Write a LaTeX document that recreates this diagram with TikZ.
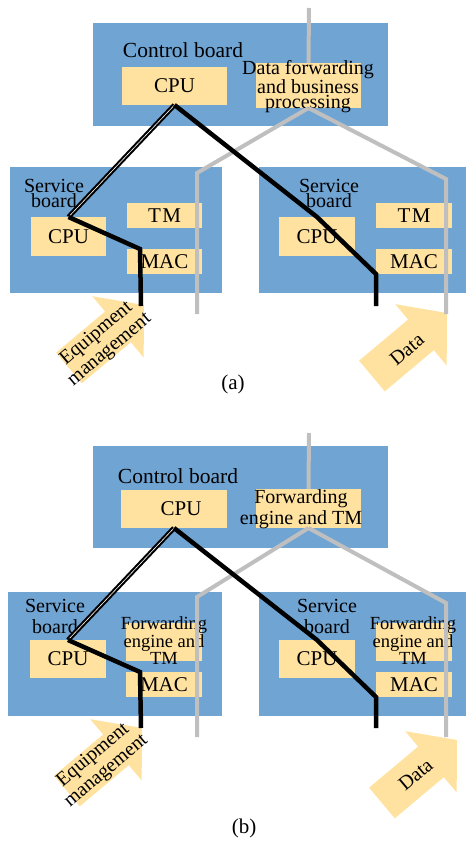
\documentclass[tikz,border=0pt]{standalone}
\usepackage{fontspec}
\setmainfont{Liberation Serif}
\definecolor{boardblue}{RGB}{111,164,211}
\definecolor{chipyellow}{RGB}{255,226,160}
\definecolor{linegray}{RGB}{191,191,191}
\begin{document}
\begin{tikzpicture}[x=1pt,y=-1pt,
  board/.style={fill=boardblue, draw=none, inner sep=0pt, outer sep=0pt},
  chip/.style={fill=chipyellow, draw=none, inner sep=0pt, outer sep=0pt, font=\fontsize{21}{21}\selectfont},
  lbl/.style={inner sep=0pt, outer sep=0pt, align=center},
  mgmt/.style={line width=4.5pt, draw=black, line join=miter},
  mgmtdbl/.style={line width=2.1pt, draw=black, double=white, double distance=0.6pt},
  dataline/.style={line width=4pt, draw=linegray, line join=miter},
  bigarrow/.style={fill=chipyellow, draw=none},
]
\useasboundingbox (0,0) rectangle (466,843);

%% ================= (a) =================
\node[board, minimum width=295pt, minimum height=103pt] (cbA) at (240.5,74.5) {};
\node[lbl, font=\fontsize{21.5}{21.5}\selectfont] (cbAt) at (183,50) {Control board};
\node[chip, minimum width=105pt, minimum height=38pt] (cpuA) at (174.5,86) {CPU};
\node[chip, minimum width=105pt, minimum height=45pt] (dfA) at (308.5,85.5) {};
\node[lbl, font=\fontsize{20}{15}\selectfont] (dfAt) at (308,87) {Data forwarding\\and business\\processing};

\node[board, minimum width=212pt, minimum height=126pt] (sbLA) at (116,230) {};
\node[lbl, font=\fontsize{20}{15}\selectfont] (sbLAt) at (54,193) {Service\\board};
\node[chip, minimum width=75pt, minimum height=39pt] (cpuLA) at (68.5,236.5) {CPU};
\node[chip, minimum width=75pt, minimum height=25pt] (tmLA) at (164.5,215.5) {T\kern1.5pt M};
\node[chip, minimum width=75pt, minimum height=25pt] (macLA) at (164.5,261.5) {MAC};

\node[board, minimum width=207pt, minimum height=126pt] (sbRA) at (362.5,230) {};
\node[lbl, font=\fontsize{20}{15}\selectfont] (sbRAt) at (329,193) {Service\\board};
\node[chip, minimum width=76pt, minimum height=39pt] (cpuRA) at (317,236.5) {CPU};
\node[chip, minimum width=76pt, minimum height=25pt] (tmRA) at (414,215.5) {T\kern1.5pt M};
\node[chip, minimum width=76pt, minimum height=25pt] (macRA) at (414,261.5) {MAC};

\begin{scope}[shift={(144,305)}, rotate=40]
  \fill[bigarrow] (0,0) -- (-34,-40) -- (-34,-20) -- (-98,-20) -- (-98,20) -- (-34,20) -- (-34,40) -- cycle;
  \node[lbl, rotate=40, font=\fontsize{20}{20.5}\selectfont] (eqA) at (-55,2) {Equipment\\management};
\end{scope}
\begin{scope}[shift={(447,313)}, rotate=40]
  \fill[bigarrow] (0,0) -- (-34,-40) -- (-34,-20) -- (-98,-20) -- (-98,20) -- (-34,20) -- (-34,40) -- cycle;
  \node[lbl, rotate=40, font=\fontsize{20}{20}\selectfont] (daA) at (-54,2) {Data};
\end{scope}

\coordinate (gtA) at (309,8);
\coordinate (glA1) at (197,173);
\coordinate (glA2) at (197,314);
\coordinate (grA1) at (446,179);
\coordinate (grA2) at (446,314);
\draw[dataline] (gtA) -- (dfA.north);
\draw[dataline] (dfA.south) -- (glA1) -- (glA2);
\draw[dataline] (dfA.south) -- (grA1) -- (grA2);

\coordinate (blA1) at (140,249);
\coordinate (blA2) at (141,306);
\coordinate (brA2) at (376,306);
\draw[mgmtdbl] (cpuA.south) -- (cpuLA.north);
\draw[mgmt] (cpuLA.north) -- (blA1) -- (blA2);
\draw[mgmt] (cpuA.south) -- (cpuRA.north) -- (macRA.south west) -- (brA2);

\node[lbl, font=\fontsize{21}{21}\selectfont] (capA) at (233,384) {(a)};

%% ================= (b) =================
\node[board, minimum width=295pt, minimum height=102pt] (cbB) at (240.5,497) {};
\node[lbl, font=\fontsize{21.5}{21.5}\selectfont] (cbBt) at (178,476) {Control board};
\node[chip, minimum width=106pt, minimum height=38pt] (cpuB) at (174,509) {\hspace*{14pt}CPU};
\node[chip, minimum width=105pt, minimum height=39pt] (fwB) at (308.5,508.5) {};
\node[lbl, font=\fontsize{20}{21}\selectfont] (fwBt) at (301,509) {Forwarding\\engine and TM};

\node[board, minimum width=214pt, minimum height=124pt] (sbLB) at (115,654) {};
\node[lbl, font=\fontsize{20}{21}\selectfont] (sbLBt) at (55,616) {Service\\board};
\node[chip, minimum width=76pt, minimum height=38pt] (cpuLB) at (68,659) {CPU};
\node[chip, minimum width=76pt, minimum height=38pt] (fwLB) at (164,642) {};
\node[lbl, font=\fontsize{18.5}{17.5}\selectfont] (fwLBt) at (164,641) {Forwarding\\engine and\\TM};
\node[chip, minimum width=76pt, minimum height=25pt] (macLB) at (164,684.5) {MAC};

\node[board, minimum width=207pt, minimum height=124pt] (sbRB) at (362.5,654) {};
\node[lbl, font=\fontsize{20}{21}\selectfont] (sbRBt) at (327,616) {Service\\board};
\node[chip, minimum width=76pt, minimum height=38pt] (cpuRB) at (317,659) {CPU};
\node[chip, minimum width=76pt, minimum height=38pt] (fwRB) at (414,642) {};
\node[lbl, font=\fontsize{18.5}{17.5}\selectfont] (fwRBt) at (413,641) {Forwarding\\engine and\\TM};
\node[chip, minimum width=76pt, minimum height=25pt] (macRB) at (414,684.5) {MAC};

\begin{scope}[shift={(142,728)}, rotate=40]
  \fill[bigarrow] (0,0) -- (-34,-40) -- (-34,-20) -- (-98,-20) -- (-98,20) -- (-34,20) -- (-34,40) -- cycle;
  \node[lbl, rotate=40, font=\fontsize{20}{20.5}\selectfont] (eqB) at (-55,0) {Equipment\\management};
\end{scope}
\begin{scope}[shift={(457,740)}, rotate=40]
  \fill[bigarrow] (0,0) -- (-34,-40) -- (-34,-20) -- (-98,-20) -- (-98,20) -- (-34,20) -- (-34,40) -- cycle;
  \node[lbl, rotate=40, font=\fontsize{20}{20}\selectfont] (daB) at (-54,0) {Data};
\end{scope}

\coordinate (gtB) at (309,433);
\coordinate (glB1) at (197,597);
\coordinate (glB2) at (197,737);
\coordinate (grB1) at (446,603);
\coordinate (grB2) at (446,737);
\draw[dataline] (gtB) -- (fwB.north);
\draw[dataline] (fwB.south) -- (glB1) -- (glB2);
\draw[dataline] (fwB.south) -- (grB1) -- (grB2);

\coordinate (blB1) at (140,672);
\coordinate (blB2) at (141,728);
\coordinate (brB2) at (376,728);
\draw[mgmtdbl] (cpuB.south) -- (cpuLB.north);
\draw[mgmt] (cpuLB.north) -- (blB1) -- (blB2);
\draw[mgmt] (cpuB.south) -- (cpuRB.north) -- (macRB.south west) -- (brB2);

\node[lbl, font=\fontsize{21}{21}\selectfont] (capB) at (244,828) {(b)};
\end{tikzpicture}
\end{document}
